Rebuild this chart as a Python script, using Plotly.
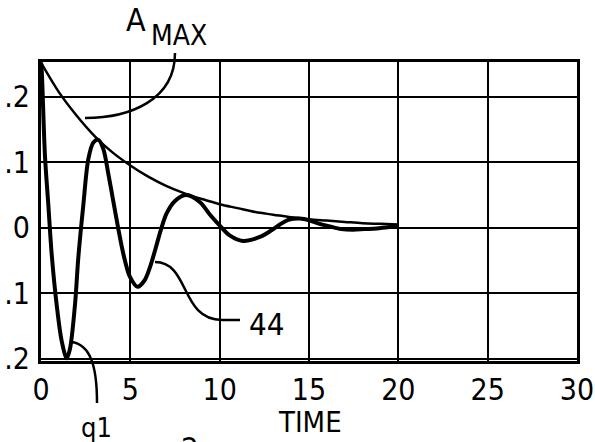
import plotly.graph_objects as go

# ---- data ----
env_t = [0, 1, 2, 3, 4, 5, 6, 7, 8, 9, 10, 11, 12, 13, 14, 15, 16, 17, 18, 19, 20]
env_v = [0.252, 0.207, 0.171, 0.140, 0.115, 0.095, 0.078, 0.064, 0.053, 0.044, 0.036,
         0.030, 0.024, 0.020, 0.016, 0.013, 0.011, 0.009, 0.007, 0.006, 0.005]

osc_t = [0, 0.04, 0.22, 0.41, 0.60, 0.88, 1.16, 1.44, 1.62, 1.90, 2.09, 2.37, 2.65, 2.93,
         3.21, 3.49, 3.77, 4.05, 4.33, 4.61, 4.98, 5.40, 5.80, 6.10, 6.47, 6.70, 7.03, 7.50,
         8.15, 8.90, 9.46, 10.02, 10.58, 11.3, 12.25, 12.9, 13.37, 13.84, 14.49, 15.05,
         15.6, 16.17, 16.8, 17.48, 18.1, 18.79, 19.4, 20.0]
osc_v = [0.252, 0.240, 0.111, 0.035, -0.041, -0.118, -0.173, -0.199, -0.185, -0.118, -0.045,
         0.035, 0.105, 0.130, 0.134, 0.120, 0.082, 0.040, -0.002, -0.040, -0.075, -0.090,
         -0.080, -0.060, -0.026, -0.004, 0.022, 0.041, 0.050, 0.039, 0.020, 0.003, -0.012,
         -0.020, -0.014, -0.004, 0.005, 0.012, 0.014, 0.011, 0.006, 0.002, -0.002, -0.003,
         -0.002, -0.001, 0.001, 0.002]

x_ticks = [0, 5, 10, 15, 20, 25, 30]
y_ticks = [-0.2, -0.1, 0, 0.1, 0.2]
y_tick_text = [".2", ".1", "0", ".1", ".2"]

X_RANGE = [0, 30]
Y_RANGE = [-0.2032, 0.2529]

FONT = "Liberation Sans Narrow, DejaVu Sans Condensed, Liberation Sans, sans-serif"

W, H = 595, 442
ML, MR, MT, MB = 41, 18, 62, 81
PW, PH = W - ML - MR, H - MT - MB


def px(x):
    return (x - ML) / PW


def py(y):
    return (H - MB - y) / PH


def path(points_cmd):
    out = []
    for item in points_cmd:
        if isinstance(item, str):
            out.append(item)
        else:
            out.append(f"{px(item[0]):.4f},{py(item[1]):.4f}")
    return " ".join(out)


fig = go.Figure()
fig.add_trace(go.Scatter(x=env_t, y=env_v, mode="lines",
                         line=dict(color="black", width=2.5, shape="spline"),
                         showlegend=False, hoverinfo="skip"))
fig.add_trace(go.Scatter(x=osc_t, y=osc_v, mode="lines",
                         line=dict(color="black", width=4, shape="spline", smoothing=0.9),
                         showlegend=False, hoverinfo="skip"))

leaders = [
    ["M", (175, 53), "C", (175, 100), (130, 118), (85, 118)],
    ["M", (155, 262), "C", (190, 262), (180, 320), (222, 320), "L", (240, 320)],
    ["M", (72, 342), "C", (90, 345), (97, 365), (97, 403)],
]
for ld in leaders:
    fig.add_shape(type="path", xref="paper", yref="paper", path=path(ld),
                  line=dict(color="black", width=2.5), layer="above")

labels = [
    ("A", 148, 20, 32, "right"),
    ("MAX", 149, 35, 28, "left"),
    ("44", 266, 324, 31, "center"),
    ("q1", 96, 427, 27, "center"),
    ("TIME", 309.5, 422, 29, "center"),
]
for txt, x, y, s, xa in labels:
    fig.add_annotation(text=txt, x=px(x), y=py(y), xref="paper", yref="paper",
                       showarrow=False, xanchor=xa, yanchor="middle",
                       font=dict(family=FONT, size=s, color="black"))
fig.add_annotation(text="2", x=px(190), y=py(428), xref="paper", yref="paper",
                   showarrow=False, xanchor="center", yanchor="top",
                   font=dict(family=FONT, size=31, color="black"))

axis_common = dict(showgrid=True, gridcolor="black", gridwidth=2,
                   showline=True, linecolor="black", linewidth=3, mirror=True,
                   zeroline=False, ticks="", automargin=False,
                   ticklabeloverflow="allow",
                   tickfont=dict(family=FONT, size=30, color="black"))
fig.update_xaxes(range=X_RANGE, tickvals=x_ticks, ticktext=[str(v) for v in x_ticks],
                 ticklabelstandoff=0, **axis_common)
fig.update_yaxes(range=Y_RANGE, tickvals=y_ticks, ticktext=y_tick_text,
                 ticklabelstandoff=2, **axis_common)

fig.update_layout(width=W, height=H, margin=dict(l=ML, r=MR, t=MT, b=MB),
                  plot_bgcolor="white", paper_bgcolor="white",
                  font=dict(family=FONT, color="black"))

fig.write_html("out.html")
